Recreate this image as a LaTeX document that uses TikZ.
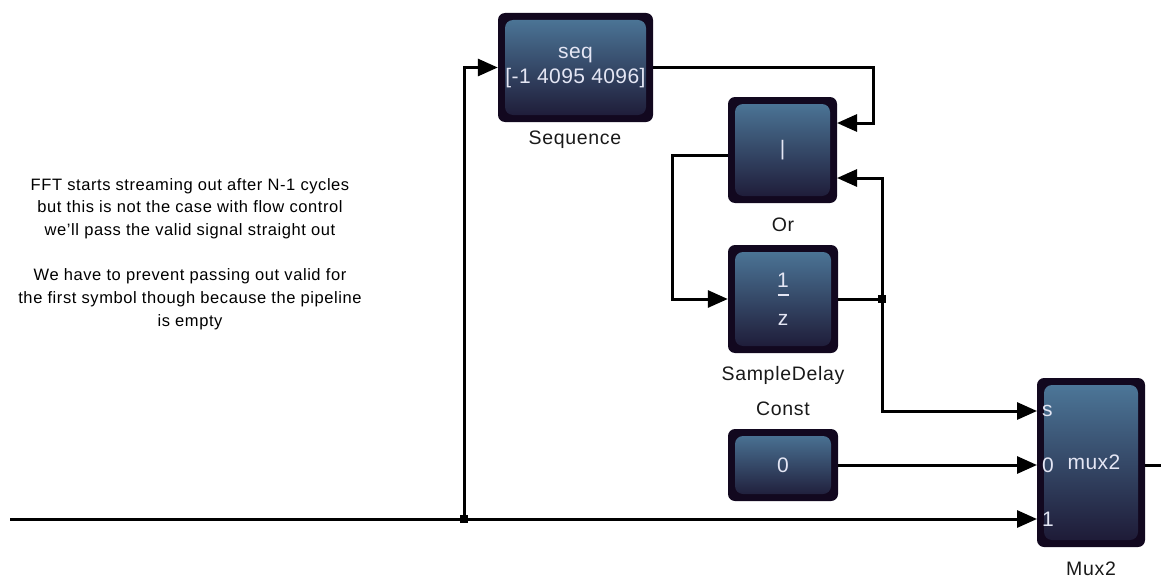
\documentclass[tikz,border=0pt]{standalone}
\usepackage{fontspec}
\setmainfont{Liberation Sans}
\usetikzlibrary{arrows.meta}

\definecolor{blkedge}{HTML}{12081F}
\definecolor{blktop}{HTML}{4E7A9C}
\definecolor{blkmid}{HTML}{221D3E}
\definecolor{blkbot}{HTML}{1C1733}
\definecolor{blktext}{HTML}{E4E6F4}

\tikzset{
  blk/.style={fill=blkedge, rounded corners=7pt, inner sep=0pt, text=blktext,
    align=center, font=\fontsize{21}{25}\selectfont\addfontfeature{LetterSpace=2},
    path picture={\shade[rounded corners=8pt, top color=blktop, middle color=blkmid,
      bottom color=blkbot]
      ([shift={(7pt,-7pt)}]path picture bounding box.north west) rectangle
      ([shift={(-7pt,7pt)}]path picture bounding box.south east);}},
  lbl/.style={text=black!90, font=\fontsize{19.5}{23}\selectfont\addfontfeature{LetterSpace=3.5}},
  port/.style={text=blktext, inner sep=0pt, font=\fontsize{21}{25}\selectfont},
  note/.style={align=center, font=\fontsize{16.5}{22.7}\selectfont\addfontfeature{LetterSpace=3.5}},
  wire/.style={line width=3pt},
  dot/.style={fill, inner sep=0pt, minimum size=8pt}
}

\begin{document}
\begin{tikzpicture}[x=1pt, y=-1pt, >={Triangle[length=20pt,width=17pt]}]
    \useasboundingbox (0,0) rectangle (1161,578);
    % comment
    \node[note] (cmt) at (190,254) {FFT starts streaming out after N-1 cycles\\
      but this is not the case with flow control\\
      we'll pass the valid signal straight out\\[22.7pt]
      We have to prevent passing out valid for\\
      the first symbol though because the pipeline\\
      is empty};
    % blocks
    \node[blk, minimum width=155pt, minimum height=109pt] (seq) at (575.5,67.5) {seq\\{}[-1 4095 4096]};
    \node[lbl] (seqlbl) at (575,140) {Sequence};
    \node[blk, minimum width=109pt, minimum height=106pt] (or) at (782.5,150) {|};
    \node[lbl] (orlbl) at (783,225) {Or};
    \node[blk, minimum width=110pt, minimum height=108pt] (dly) at (783,299)
      {1\\[-6pt]\rule[10pt]{11pt}{2.5pt}\\[-6pt]z};
    \node[lbl] (dlylbl) at (783,375) {SampleDelay};
    \node[lbl] (cstlbl) at (783,409) {Const};
    \node[blk, minimum width=110pt, minimum height=72pt] (cst) at (783,465) {0};
    \node[blk, minimum width=108pt, minimum height=169pt] (mux) at (1091,462.5) {\hspace*{6pt}mux2};
    \node[lbl] (muxlbl) at (1091,569) {Mux2};
    % mux ports
    \node[port, anchor=west] (ps) at (1042,411) {s};
    \node[port, anchor=west] (p0) at (1042,465) {0};
    \node[port, anchor=west] (p1) at (1042,519) {1};
    \coordinate (mux-s) at (1037,411);
    \coordinate (mux-0) at (1037,465);
    \coordinate (mux-1) at (1037,519);
    \coordinate (mux-q) at (1145,465);
    \coordinate (or-a) at (837,123);
    \coordinate (or-b) at (837,178);
    \coordinate (or-q) at (728,155);
    \coordinate (vin) at (10,519);
    \coordinate (vout) at (1161,465);
    % junctions
    \node[dot] (j1) at (464,519) {};
    \node[dot] (j2) at (882,299) {};
    % wires
    \draw[wire,->] (vin) -- (mux-1);
    \draw[wire,->] (j1) |- (seq.west);
    \draw[wire,->] (seq.east) -| ([xshift=36pt]or-a) -- (or-a);
    \draw[wire,->] (or-q) -| ([xshift=-55pt]dly.west) -- (dly.west);
    \draw[wire] (dly.east) -- (j2);
    \draw[wire,->] (j2) |- (or-b);
    \draw[wire,->] (j2) |- (mux-s);
    \draw[wire,->] (cst.east) -- (mux-0);
    \draw[wire] (mux-q) -- (vout);
\end{tikzpicture}
\end{document}
